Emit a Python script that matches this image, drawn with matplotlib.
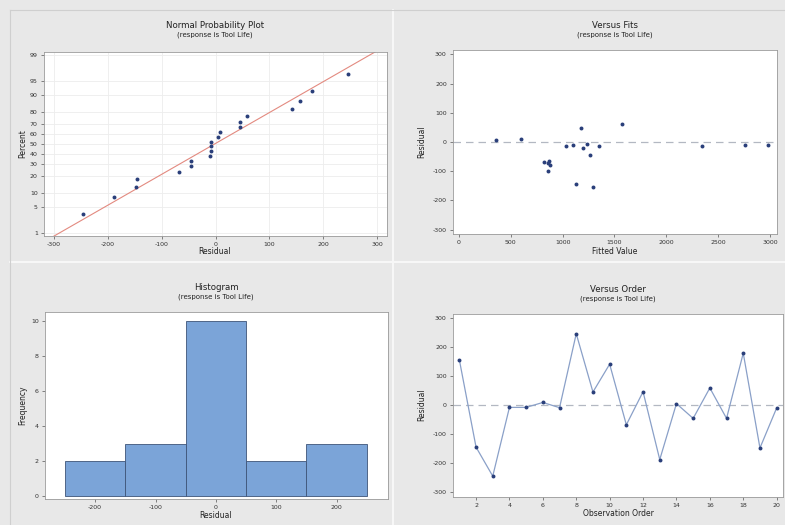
import numpy as np
import matplotlib
matplotlib.use("Agg")
import matplotlib.pyplot as plt
from matplotlib.lines import Line2D
from statistics import NormalDist

plt.rcParams["axes.unicode_minus"] = False

# residuals in observation order (read from "Versus Order")
obs_order = list(range(1, 21))
residuals = [156, -145, -245, -8, -8, 9, -9, 246, 45, 141,
             -68, 46, -188, 5, -46, 59, -46, 179, -148, -10]

# "Versus Fits" panel points
fitted_values = [354, 595, 820, 869, 878, 862, 858, 1030, 1103, 1178,
                 1127, 1194, 1233, 1264, 1297, 1354, 1576, 2348, 2761, 2980]
fit_residuals = [6, 11, -67, -64, -79, -98, -72, -14, -10, 49,
                 -143, -20, -8, -45, -155, -14, 60, -15, -10, -9]

pct_ticks = [1, 5, 10, 20, 30, 40, 50, 60, 70, 80, 90, 95, 99]
hist_edges = [-250, -150, -50, 50, 150, 250]

W, H = 785, 525
BG = "#e8e8e8"
DOT = "#2a3f7a"
TICK_FS = 4.5
LABEL_FS = 5.5
TITLE_FS = 6.2
SUB_FS = 5.0

nd = NormalDist()


def rect(left, top, right, bottom):
    return [left / W, 1 - bottom / H, (right - left) / W, (bottom - top) / H]


def style(ax):
    ax.set_facecolor("white")
    for s in ax.spines.values():
        s.set_color("#9a9a9a")
        s.set_linewidth(0.6)
    ax.tick_params(labelsize=TICK_FS, length=2.5, width=0.5, colors="#555555",
                   labelcolor="#333333", pad=2)


def titles(x_px, y_px, title):
    fig.text(x_px / W, 1 - y_px / H, title, ha="center", va="center",
             fontsize=TITLE_FS, color="#222222")
    fig.text(x_px / W, 1 - (y_px + 10) / H, "(response is Tool Life)",
             ha="center", va="center", fontsize=SUB_FS, color="#222222")


def labels(xlab, xl_pos, ylab, yl_pos):
    fig.text(xl_pos[0] / W, 1 - xl_pos[1] / H, xlab, ha="center", va="center",
             fontsize=LABEL_FS, color="#222222")
    fig.text(yl_pos[0] / W, 1 - yl_pos[1] / H, ylab, ha="center", va="center",
             fontsize=LABEL_FS, color="#222222", rotation=90)


fig = plt.figure(figsize=(W / 100, H / 100), dpi=100)
fig.patch.set_facecolor(BG)

# panel separators
fig.add_artist(Line2D([393 / W, 393 / W], [0, 1 - 10 / H], color="#f7f7f7", lw=1.5))
fig.add_artist(Line2D([10 / W, 1], [1 - 262 / H, 1 - 262 / H], color="#f7f7f7", lw=1.5))
fig.add_artist(Line2D([10 / W, 10 / W], [0, 1 - 10 / H], color="#cfcfcf", lw=0.8))
fig.add_artist(Line2D([10 / W, 1], [1 - 10 / H, 1 - 10 / H], color="#cfcfcf", lw=0.8))

# ---- Normal probability plot
ax1 = fig.add_axes(rect(44, 52, 387, 236))
style(ax1)
res_sorted = np.sort(np.array(residuals, dtype=float))
n = len(res_sorted)
probs = (np.arange(1, n + 1) - 0.3) / (n + 0.4)
zs = np.array([nd.inv_cdf(p) for p in probs])
mu, sd = res_sorted.mean(), res_sorted.std(ddof=1)
zline = np.array([-3.0, 3.0])
ax1.plot(mu + sd * zline, zline, color="#e38a80", lw=0.8, zorder=2)
ax1.scatter(res_sorted, zs, s=8, color=DOT, zorder=3, linewidths=0)
ax1.set_xlim(-318, 318)
ax1.set_ylim(-2.40, 2.40)
ax1.set_xticks([-300, -200, -100, 0, 100, 200, 300])
ax1.set_yticks([nd.inv_cdf(p / 100) for p in pct_ticks])
ax1.set_yticklabels([str(p) for p in pct_ticks])
ax1.grid(True, color="#ededed", lw=0.6)
ax1.set_axisbelow(True)
titles(215, 25, "Normal Probability Plot")
labels("Residual", (215, 252), "Percent", (23, 144))

# ---- Versus fits
ax2 = fig.add_axes(rect(453, 50, 777, 234))
style(ax2)
ax2.axhline(0, color="#b3b8c2", lw=0.9, ls=(0, (6, 4)), zorder=1)
ax2.scatter(fitted_values, fit_residuals, s=8, color=DOT, zorder=3, linewidths=0)
ax2.set_xlim(-58, 3068)
ax2.set_ylim(-315, 315)
ax2.set_xticks(range(0, 3001, 500))
ax2.set_yticks(range(-300, 301, 100))
titles(615, 25, "Versus Fits")
labels("Fitted Value", (615, 252), "Residual", (422, 142))

# ---- Histogram
ax3 = fig.add_axes(rect(45, 312, 388, 499))
style(ax3)
ax3.hist(residuals, bins=hist_edges, color="#7ba4d8", edgecolor="#3e5478", linewidth=0.6)
ax3.set_xlim(-283, 285)
ax3.set_ylim(-0.15, 10.53)
ax3.set_xticks([-200, -100, 0, 100, 200])
ax3.set_yticks([0, 2, 4, 6, 8, 10])
titles(216, 287, "Histogram")
labels("Residual", (216, 516), "Frequency", (23, 405))

# ---- Versus order
ax4 = fig.add_axes(rect(453, 314, 783, 497))
style(ax4)
ax4.axhline(0, color="#b3b8c2", lw=0.9, ls=(0, (6, 4)), zorder=1)
ax4.plot(obs_order, residuals, color="#8aa0c8", lw=0.9, zorder=2)
ax4.scatter(obs_order, residuals, s=8, color=DOT, zorder=3, linewidths=0)
ax4.set_xlim(0.62, 20.38)
ax4.set_ylim(-317, 314)
ax4.set_xticks(range(2, 21, 2))
ax4.set_yticks(range(-300, 301, 100))
titles(618, 289, "Versus Order")
labels("Observation Order", (618, 514), "Residual", (422, 405))

fig.savefig("out.png", dpi=100, facecolor=fig.get_facecolor())
